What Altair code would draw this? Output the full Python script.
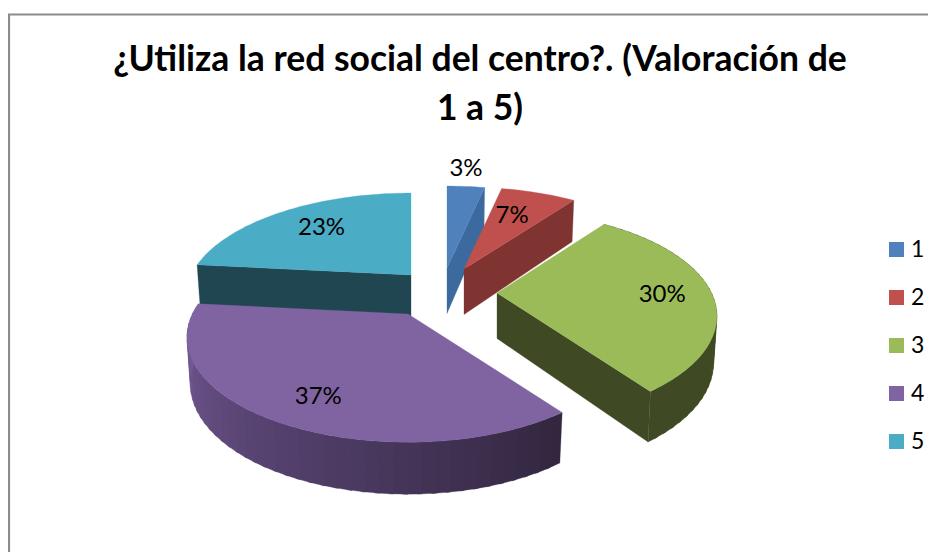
import math
import altair as alt
import pandas as pd

categories = ["1", "2", "3", "4", "5"]
counts = [1, 2, 9, 11, 7]
top_colors = ["#4F81BD", "#C0504D", "#9BBB59", "#8064A2", "#4BACC6"]
wall_colors = ["#3D6A9E", "#7F3432", "#3F4A24", "#54416E", "#1F4651"]
title_lines = ["¿Utiliza la red social del centro?. (Valoración de", "1 a 5)"]

# Layout of the exploded 3-D pie (page pixels)
apexes = [(447, 268), (464, 269), (497, 293), (408, 314), (411, 275)]
radius_scale = [1.0, 1.0, 0.975, 0.98, 1.0]
label_radius = [1.28, 0.66, 0.77, 0.78, 0.70]
label_nudge = [(-4, 0), (-4, 0), (0, 2), (9, 4), (3, 0)]
R, S, K = 220.0, 100.0, 0.22
W, H = 920, 544
FONT = "Lato"

total = sum(counts)
percent = [c / total for c in counts]
edges = [0.0]
for p in percent:
    edges.append(edges[-1] + p * 360.0)


def project(i, t, r=1.0):
    apex = apexes[i]
    a = math.radians(t)
    X, Y = r * math.sin(a), r * math.cos(a)
    d = 1 + K * Y
    return apex[0] + radius_scale[i] * R * X / d, apex[1] - S * Y / d


def drop(i, pt, t, r=1.0):
    apex = apexes[i]
    Y = r * math.cos(math.radians(t))
    h = 45.5 / (1 + 0.125 * Y)
    return apex[0] + (pt[0] - apex[0]) * 0.985, pt[1] + h


def mix(c1, c2, f):
    a = [int(c1[i:i + 2], 16) for i in (1, 3, 5)]
    b = [int(c2[i:i + 2], 16) for i in (1, 3, 5)]
    return "#%02x%02x%02x" % tuple(round(x + (y - x) * f) for x, y in zip(a, b))


rows = []
pid = [0]


def poly(points, color):
    pid[0] += 1
    pts = list(points) + [points[0]]
    for i, (x, y) in enumerate(pts):
        rows.append({"pid": pid[0], "i": i, "px": x, "py": y, "fillc": color})


def radial_wall(i, t):
    apex = apexes[i]
    o = project(i, t)
    poly([apex, o, drop(i, o, t), drop(i, apex, 90)], wall_colors[i])


def outer_wall(i, colorfn):
    t0, t1 = edges[i], edges[i + 1]
    step = 3.0
    t = t0
    while t < t1 - 1e-6:
        u = min(t + step, t1)
        ext = min(u + 1.0, t1)
        a, b = project(i, t), project(i, ext)
        poly([a, b, drop(i, b, ext), drop(i, a, t)], colorfn((t + u) / 2))
        t = u


def purple(t):
    f = (t - 144) / (276 - 144)  # 0 right, 1 left
    if f < 0.5:
        return mix("#32263E", "#54416E", f / 0.5)
    return mix("#54416E", "#7A5E9A", (f - 0.5) / 0.5)


def top(i):
    n = max(4, int((edges[i + 1] - edges[i]) / 1.5))
    pts = [apexes[i]] + [project(i, edges[i] + (edges[i + 1] - edges[i]) * j / n) for j in range(n + 1)]
    poly(pts, top_colors[i])


# Back-to-front painting order
radial_wall(4, edges[4])
top(4)
radial_wall(0, edges[1])
top(0)
radial_wall(1, edges[2])
top(1)
radial_wall(2, edges[3])
outer_wall(2, lambda t: wall_colors[2])
top(2)
outer_wall(3, purple)
top(3)

polys = pd.DataFrame(rows)

labels = []
for i, c in enumerate(categories):
    mid = (edges[i] + edges[i + 1]) / 2
    x, y = project(i, mid, label_radius[i])
    labels.append({"px": x + label_nudge[i][0], "py": y + label_nudge[i][1], "txt": f"{round(percent[i] * 100)}%"})
labels = pd.DataFrame(labels)

title_df = pd.DataFrame({"px": [480, 480], "py": [71, 120], "txt": title_lines})

xs = alt.Scale(domain=[8, 8 + W], range=[0, W])
ys = alt.Scale(domain=[8, 8 + H], range=[0, H])
X = alt.X("px:Q", scale=xs, axis=None)
Y = alt.Y("py:Q", scale=ys, axis=None)

frame = pd.DataFrame({"px": [9, 9, 928], "py": [552, 14.5, 14.5], "i": [0, 1, 2]})
frame_layer = alt.Chart(frame).mark_line(stroke="#8C8C8C", strokeWidth=2.2).encode(x=X, y=Y, order="i:Q")

slices = alt.Chart(polys).mark_line(strokeWidth=0.3).encode(
    x=X, y=Y, order="i:Q", detail="pid:N",
    fill=alt.Fill("fillc:N", scale=None),
    stroke=alt.Stroke("fillc:N", scale=None),
)

text = alt.Chart(labels).mark_text(font=FONT, fontSize=24, color="#000000").encode(x=X, y=Y, text="txt:N")

title_layer = alt.Chart(title_df).mark_text(
    font=FONT, fontSize=35.5, fontWeight="bold", color="#000000", baseline="alphabetic"
).encode(x=X, y=Y, text="txt:N")

legend_df = pd.DataFrame({"cat": categories, "n": counts})
legend_layer = alt.Chart(legend_df).mark_square(size=0, opacity=1).encode(
    x=alt.value(-50), y=alt.value(-50),
    color=alt.Color(
        "cat:N",
        scale=alt.Scale(domain=categories, range=top_colors),
        legend=alt.Legend(
            title=None, orient="none", legendX=877, legendY=230,
            symbolType="square", symbolSize=225, symbolStrokeWidth=0,
            symbolOpacity=1,
            labelFont=FONT, labelFontSize=23, labelColor="#000000",
            labelOffset=3, rowPadding=24, padding=0,
        ),
    ),
)

chart = alt.layer(frame_layer, slices, text, title_layer, legend_layer).properties(
    width=W, height=H,
    padding=0,
    background="white",
    autosize=alt.AutoSizeParams(type="none"),
).configure_view(stroke=None)

chart.save("out.html", embed_options={"renderer": "svg", "actions": False})
